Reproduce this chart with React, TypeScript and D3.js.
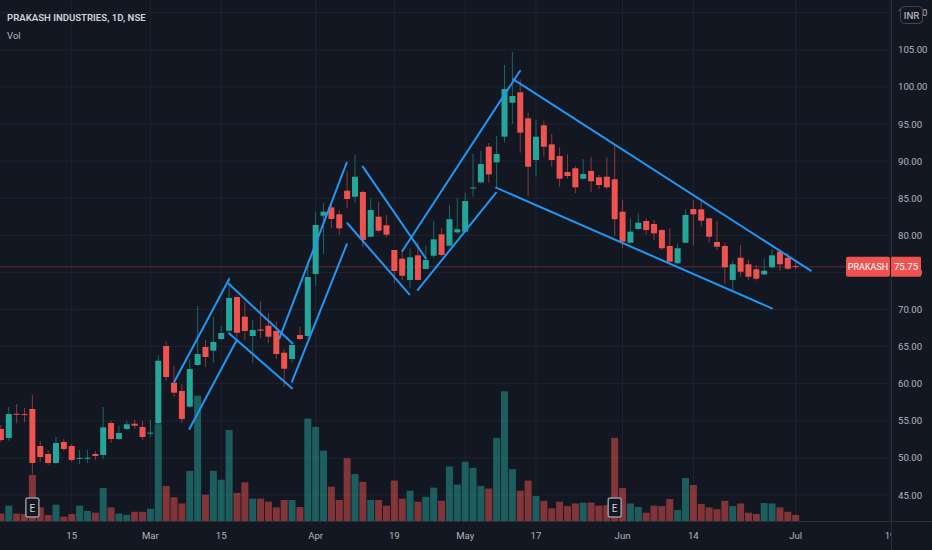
import * as d3 from 'd3'

// daily candles, PRAKASH INDUSTRIES (NSE), early Feb .. 1 Jul 2021
const opens = [
  53.9, 52.68, 55.95, 55.9, 56.59, 51.6, 50.53, 49.31, 52.14, 51.6,
  49.9, 49.92, 50.53, 50.39, 54.7, 52.55, 53.9, 54.61, 54.17, 53.3,
  54.66, 65.08, 60.13, 59.02, 56.9, 62.52, 64.95, 64.45, 66.02, 67.14,
  71.68, 69.03, 66.43, 67.3, 67.82, 67.1, 64.18, 63.33, 66.56, 66.43,
  74.78, 82.64, 83.77, 82.83, 86.01, 85.2, 85.84, 79.81, 82.51, 81.35,
  78.02, 76.85, 73.98, 77.3, 75.46, 77.25, 80.13, 78.6, 80.4, 80.49,
  86.33, 87.14, 91.94, 89.84, 93.29, 97.87, 99.27, 95.77, 90.15, 94.82,
  92.26, 90.69, 88.53, 89.03, 87.63, 88.67, 87.82, 87.9, 87.55, 83.18,
  79.0, 80.85, 81.93, 81.52, 80.71, 78.56, 76.23, 79.0, 83.54, 83.5,
  82.29, 79.1, 78.56, 73.98, 76.98, 76.09, 75.42, 74.74, 75.69, 77.79,
  76.98, 75.85,
]
const highs = [
  54.43, 56.86, 57.26, 56.73, 58.48, 52.28, 51.06, 52.82, 52.55, 51.87,
  51.06, 51.06, 50.93, 56.86, 54.99, 54.3, 54.99, 55.12, 54.97, 55.1,
  63.87, 65.66, 62.39, 59.96, 63.33, 70.47, 65.89, 68.99, 67.78, 74.42,
  71.95, 71.05, 68.58, 71.05, 69.53, 68.36, 64.68, 65.49, 67.68, 76.5,
  83.18, 84.39, 84.39, 83.41, 88.71, 90.82, 86.01, 85.03, 84.53, 82.74,
  78.05, 78.02, 78.25, 79.14, 78.56, 81.97, 81.02, 84.08, 84.99, 85.74,
  90.96, 91.4, 92.44, 93.38, 102.95, 104.74, 101.02, 96.52, 95.54, 95.44,
  93.65, 91.86, 90.92, 89.34, 90.28, 90.59, 88.13, 90.51, 92.3, 84.76,
  82.29, 82.96, 82.29, 82.06, 80.81, 80.94, 78.92, 83.5, 84.76, 84.66,
  82.3, 81.93, 79.0, 76.58, 78.69, 76.67, 76.0, 76.9, 78.11, 78.11,
  77.65, 76.67,
]
const lows = [
  52.14, 52.28, 54.66, 54.84, 47.83, 49.45, 49.04, 49.2, 50.93, 49.45,
  49.18, 49.31, 49.72, 49.85, 52.01, 52.41, 53.76, 53.93, 52.42, 52.82,
  54.43, 60.4, 58.21, 54.74, 56.73, 62.39, 62.29, 62.83, 65.89, 67.01,
  66.16, 65.89, 62.83, 66.16, 65.49, 63.33, 59.6, 62.79, 65.89, 66.16,
  73.17, 77.48, 80.94, 80.04, 83.64, 84.39, 78.38, 79.73, 80.35, 79.73,
  73.61, 73.98, 72.86, 73.9, 75.42, 76.9, 77.12, 78.46, 80.18, 80.35,
  85.2, 87.01, 87.09, 86.33, 92.53, 95.0, 91.13, 85.3, 87.9, 90.59,
  89.25, 86.55, 87.63, 85.66, 87.55, 85.88, 86.2, 86.2, 79.91, 78.25,
  78.92, 80.71, 80.04, 79.37, 78.02, 76.23, 76.13, 78.92, 78.6, 81.16,
  79.0, 78.02, 73.44, 72.53, 74.42, 73.98, 73.9, 74.65, 75.55, 75.23,
  75.32, 75.42,
]
const closes = [
  52.41, 55.92, 55.85, 55.8, 49.31, 50.12, 49.31, 52.01, 51.2, 49.72,
  50.0, 50.02, 50.26, 54.12, 52.55, 53.36, 54.53, 54.34, 52.82, 53.4,
  63.1, 60.9, 58.79, 55.24, 61.98, 64.0, 63.6, 65.62, 66.83, 71.55,
  66.87, 67.1, 67.24, 67.15, 66.33, 64.0, 62.02, 65.22, 66.02, 74.38,
  81.39, 83.18, 82.2, 80.94, 84.89, 87.9, 79.37, 83.41, 80.62, 80.08,
  75.19, 74.55, 77.04, 73.98, 76.67, 79.46, 77.35, 82.16, 80.81, 84.62,
  86.45, 89.61, 88.22, 90.96, 99.72, 98.77, 93.83, 89.25, 93.29, 91.94,
  90.15, 87.63, 87.99, 86.47, 88.26, 87.28, 86.78, 86.47, 82.16, 79.14,
  80.49, 81.7, 80.71, 80.27, 78.25, 76.44, 78.25, 82.74, 82.83, 81.97,
  79.81, 78.46, 75.69, 76.09, 75.09, 74.42, 74.15, 75.23, 77.3, 76.09,
  75.5, 75.75,
]
// volume, millions of shares
const volumes = [
  1.8, 3.6, 1.8, 1.7, 10.6, 3.2, 1.5, 3.8, 1.1, 1.7,
  3.6, 2.4, 2.0, 7.6, 3.2, 1.8, 1.5, 2.2, 2.2, 2.9,
  22.1, 8.1, 5.5, 4.1, 11.5, 28.6, 6.1, 11.5, 9.5, 20.8,
  6.5, 8.9, 5.2, 5.2, 4.5, 3.2, 4.9, 4.9, 3.3, 23.4,
  21.5, 16.1, 7.9, 4.9, 14.4, 10.8, 9.0, 4.9, 4.9, 3.6,
  9.3, 5.2, 7.0, 4.5, 5.6, 7.7, 4.7, 12.5, 8.4, 13.6,
  12.2, 8.1, 7.5, 19.0, 29.6, 11.9, 7.0, 9.3, 5.8, 4.7,
  3.0, 4.5, 3.5, 4.1, 4.3, 4.3, 3.6, 3.7, 19.0, 7.6,
  4.1, 3.3, 2.0, 3.6, 3.5, 5.1, 2.6, 9.9, 8.3, 4.0,
  3.2, 2.8, 4.7, 3.5, 4.1, 2.0, 1.7, 4.2, 4.1, 3.2,
  2.2, 1.5,
]

const dateTickIdx = [9, 19, 28, 40, 50, 59, 68, 79, 88, 101, 113]
const dateTickLabels = ['15', 'Mar', '15', 'Apr', '19', 'May', '17', 'Jun', '14', 'Jul', '19']
const priceTicks = [45, 50, 55, 60, 65, 70, 75, 80, 85, 90, 95, 100, 105, 110]
const earningsIdx = [4, 78]

// drawn trend lines: [startIdx, startPrice, endIdx, endPrice]
const trendLines = [
  [22.04, 60.27, 28.99, 74.07],
  [23.95, 53.9, 29.97, 65.89],
  [28.99, 73.44, 37.04, 65.44],
  [28.99, 66.79, 36.99, 59.38],
  [35.39, 66.12, 43.95, 89.78],
  [37.0, 60.27, 43.95, 78.79],
  [45.99, 89.25, 53.99, 76.9],
  [44.03, 81.62, 51.91, 72.05],
  [51.02, 77.88, 65.98, 102.18],
  [52.98, 72.63, 62.93, 85.74],
  [65.13, 101.02, 102.92, 75.23],
  [62.93, 86.42, 97.97, 70.16],
]

const W = 932
const H = 550
const plotRight = 891
const axisTop = 521.5

const up = '#26a69a'
const down = '#ef5350'
const bg = '#131722'
const grid = '#1f2330'
const axisText = '#b2b5be'

export default function App() {
  const x = d3.scaleLinear().domain([0, 113]).range([0.9, 890.1])
  const y = d3.scaleLinear().domain([45, 105]).range([495, 49.8])
  const vy = d3.scaleLinear().domain([0, 30]).range([axisTop, axisTop - 132])
  const idx = d3.range(opens.length)
  const last = closes[closes.length - 1]

  return (
    <div>
      <style>{'body{margin:0;background:' + bg + '}'}</style>
      <svg width={W} height={H} style={{ display: 'block', fontFamily: 'Roboto, sans-serif' }}>
        <defs>
          <clipPath id="plot">
            <rect x={0} y={0} width={plotRight} height={H} />
          </clipPath>
        </defs>
        <rect width={W} height={H} fill={bg} />

        {/* grid */}
        {priceTicks.map(p => (
          <line key={'h' + p} x1={0} x2={plotRight} y1={y(p)} y2={y(p)} stroke={grid} />
        ))}
        {dateTickIdx.map(i => (
          <line key={'v' + i} x1={x(i)} x2={x(i)} y1={0} y2={axisTop} stroke={grid} />
        ))}

        {/* volume */}
        {idx.map(i => (
          <rect
            key={'vol' + i}
            x={x(i) - 3.5}
            width={7}
            y={vy(volumes[i])}
            height={vy(0) - vy(volumes[i])}
            fill={closes[i] >= opens[i] ? up : down}
            fillOpacity={0.5}
          />
        ))}

        {/* last price line */}
        <line x1={0} x2={plotRight} y1={y(last)} y2={y(last)} stroke={down} strokeOpacity={0.35} />

        {/* candles */}
        {idx.map(i => {
          const c = closes[i] >= opens[i] ? up : down
          const top = y(Math.max(opens[i], closes[i]))
          const bot = y(Math.min(opens[i], closes[i]))
          return (
            <g key={'c' + i}>
              <line x1={x(i)} x2={x(i)} y1={y(highs[i])} y2={y(lows[i])} stroke={c} strokeOpacity={0.55} />
              <rect x={x(i) - 3} width={6} y={top} height={Math.max(1, bot - top)} fill={c} />
            </g>
          )
        })}

        {/* trend lines */}
        {trendLines.map((t, k) => (
          <line
            key={'t' + k}
            x1={x(t[0])}
            y1={y(t[1])}
            x2={x(t[2])}
            y2={y(t[3])}
            stroke="#2196f3"
            strokeWidth={2}
            strokeLinecap="round"
          />
        ))}

        {/* earnings markers */}
        {earningsIdx.map(i => (
          <g key={'e' + i} transform={`translate(${x(i) - 6.5},498)`}>
            <rect width={13} height={19} rx={2} fill={bg} stroke="#9598a1" strokeWidth={1.5} />
            <text x={6.5} y={13.5} textAnchor="middle" fontSize={10} fill="#d1d4dc">E</text>
          </g>
        ))}

        {/* header */}
        <text x={7} y={20.5} fontSize={9.6} fontWeight={600} fill="#d1d4dc">PRAKASH INDUSTRIES, 1D, NSE</text>
        <text x={7} y={39} fontSize={9.6} fill={axisText}>Vol</text>

        {/* axes */}
        <line x1={plotRight + 0.5} x2={plotRight + 0.5} y1={0} y2={H} stroke="#2a2e39" />
        <line x1={0} x2={W} y1={axisTop} y2={axisTop} stroke="#2a2e39" />
        {priceTicks.map(p => (
          <text key={'pl' + p} x={898} y={y(p) + 3.5} fontSize={9.6} fill={axisText}>
            {p.toFixed(2)}
          </text>
        ))}
        <g clipPath="url(#plot)">
          {dateTickIdx.map((i, k) => (
            <text key={'dl' + i} x={x(i)} y={539} textAnchor="middle" fontSize={9.6} fill={axisText}>
              {dateTickLabels[k]}
            </text>
          ))}
        </g>

        {/* currency badge */}
        <rect x={900.5} y={6.5} width={22} height={17} rx={4} fill={bg} stroke="#434651" />
        <text x={911.5} y={18.5} textAnchor="middle" fontSize={9.6} fill="#d1d4dc">INR</text>

        {/* last price labels */}
        <rect x={846} y={y(last) - 10} width={44} height={20} rx={2} fill={down} />
        <text x={868} y={y(last) + 3.5} textAnchor="middle" fontSize={9} fill="#fff">PRAKASH</text>
        <rect x={891} y={y(last) - 10} width={30} height={20} rx={1} fill={down} />
        <text x={906} y={y(last) + 3.5} textAnchor="middle" fontSize={9.6} fill="#fff">
          {last.toFixed(2)}
        </text>
      </svg>
    </div>
  )
}
